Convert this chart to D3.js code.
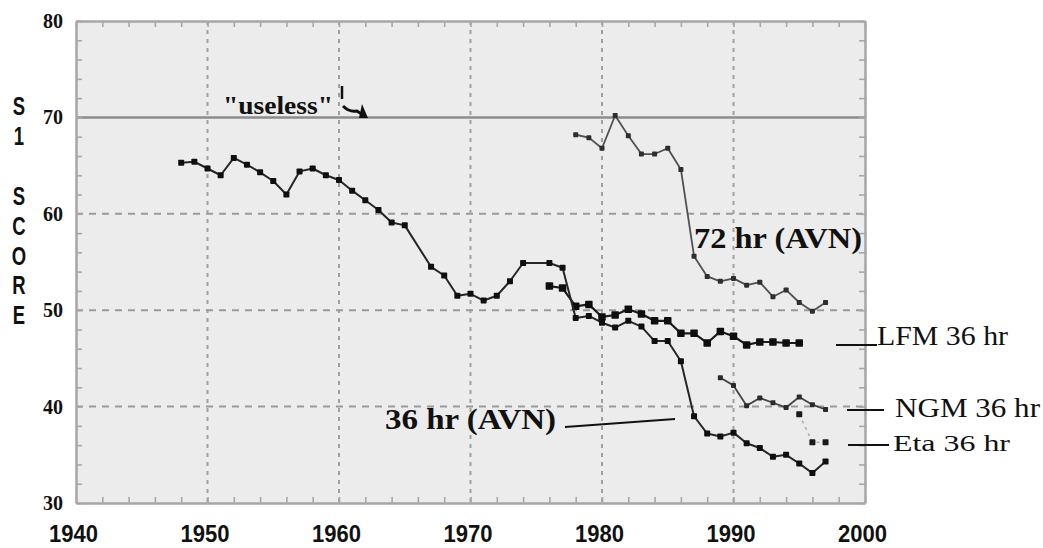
<!DOCTYPE html>
<html>
<head>
<meta charset="utf-8">
<script src="https://cdn.jsdelivr.net/npm/d3@7"></script>
<style>
  html, body { margin: 0; padding: 0; background: #ffffff; }
  svg { display: block; }
</style>
</head>
<body>
<svg id="chart" width="1043" height="548"></svg>
<script>
// S1 skill scores of NCEP forecasts (lower is better)

// 36 hr forecast, AVN / operational barotropic-to-global lineage
const avn36Years = [1948,1949,1950,1951,1952,1953,1954,1955,1956,1957,1958,1959,1960,1961,1962,1963,1964,1965,
                    1967,1968,1969,1970,1971,1972,1973,1974,1976,1977,1978,1979,1980,1981,1982,1983,1984,1985,
                    1986,1987,1988,1989,1990,1991,1992,1993,1994,1995,1996,1997];
const avn36Scores = [65.3,65.4,64.7,64.0,65.8,65.1,64.3,63.4,62.0,64.4,64.7,64.0,63.5,62.4,61.4,60.4,59.1,58.8,
                     54.5,53.6,51.5,51.7,51.0,51.5,53.0,54.9,54.9,54.4,49.2,49.4,48.7,48.2,48.9,48.3,46.8,46.8,
                     44.7,39.0,37.2,36.9,37.3,36.2,35.7,34.8,35.0,34.1,33.1,34.3];

// 72 hr forecast, AVN
const avn72Years = [1978,1979,1980,1981,1982,1983,1984,1985,1986,1987,1988,1989,1990,1991,1992,1993,1994,1995,1996,1997];
const avn72Scores = [68.2,67.9,66.8,70.2,68.1,66.2,66.2,66.8,64.6,55.6,53.5,53.0,53.3,52.6,52.9,51.4,52.1,50.8,49.9,50.8];

// 36 hr forecast, LFM
const lfmYears = [1976,1977,1978,1979,1980,1981,1982,1983,1984,1985,1986,1987,1988,1989,1990,1991,1992,1993,1994,1995];
const lfmScores = [52.5,52.3,50.4,50.6,49.3,49.5,50.1,49.6,48.9,48.9,47.6,47.6,46.6,47.8,47.3,46.4,46.7,46.7,46.6,46.6];

// 36 hr forecast, NGM
const ngmYears = [1989,1990,1991,1992,1993,1994,1995,1996,1997];
const ngmScores = [43.0,42.2,40.1,40.9,40.4,39.9,41.0,40.2,39.7];

// 36 hr forecast, Eta
const etaYears = [1995,1996,1997];
const etaScores = [39.2,36.3,36.3];

// axes
const yTickValues = [30, 40, 50, 60, 70, 80];
const xTickValues = [1940, 1950, 1960, 1970, 1980, 1990, 2000];
const yGridValues = [40, 50, 60];
const xGridValues = [1950, 1960, 1970, 1980, 1990];
const uselessLevel = 70;
const yTitleChars = ["S", "1", "", "S", "C", "O", "R", "E"];

const svg = d3.select("#chart");
const x = d3.scaleLinear().domain([1940, 2000]).range([76, 865]);
const y = d3.scaleLinear().domain([30, 80]).range([503, 21]);

const serif = "'Liberation Serif', 'Times New Roman', serif";
const sans = "'Liberation Sans', Arial, sans-serif";

// plot background
svg.append("rect")
  .attr("x", x(1940)).attr("y", y(80))
  .attr("width", x(2000) - x(1940)).attr("height", y(30) - y(80))
  .attr("fill", "#ececec");

// dashed grid
svg.append("g").selectAll("line").data(yGridValues).join("line")
  .attr("x1", x(1940)).attr("x2", x(2000))
  .attr("y1", d => y(d)).attr("y2", d => y(d))
  .attr("stroke", "#9a9a9a").attr("stroke-width", 2).attr("stroke-dasharray", "7,6");
svg.append("g").selectAll("line").data(xGridValues).join("line")
  .attr("x1", d => x(d)).attr("x2", d => x(d))
  .attr("y1", y(80)).attr("y2", y(30))
  .attr("stroke", "#a0a0a0").attr("stroke-width", 2).attr("stroke-dasharray", "4,5");

// "useless" threshold
svg.append("line")
  .attr("x1", x(1940)).attr("x2", x(2000))
  .attr("y1", y(uselessLevel)).attr("y2", y(uselessLevel))
  .attr("stroke", "#8c8c8c").attr("stroke-width", 2.5);

// frame with inward minor ticks
function frame(sel) {
  sel.selectAll(".domain").attr("stroke", "#a6a6a6").attr("stroke-width", 2.5);
  sel.selectAll(".tick line").attr("stroke", "#a8a8a8").attr("stroke-width", 1.6);
}
const minorY = d3.range(30, 81, 2);
const minorX = d3.range(1940, 2001, 2);
svg.append("g").attr("transform", `translate(${x(1940)},0)`)
  .call(d3.axisLeft(y).tickValues(minorY).tickSize(-6).tickSizeOuter(0).tickFormat(""))
  .call(frame);
svg.append("g").attr("transform", `translate(${x(2000)},0)`)
  .call(d3.axisRight(y).tickValues(minorY).tickSize(-6).tickSizeOuter(0).tickFormat(""))
  .call(frame);
svg.append("g").attr("transform", `translate(0,${y(80)})`)
  .call(d3.axisTop(x).tickValues(minorX).tickSize(-6).tickSizeOuter(0).tickFormat(""))
  .call(frame);
svg.append("g").attr("transform", `translate(0,${y(30)})`)
  .call(d3.axisBottom(x).tickValues(minorX).tickSize(-6).tickSizeOuter(0).tickFormat(""))
  .call(frame);

// tick labels
const yAxis = svg.append("g").attr("transform", `translate(${x(1940)},0)`)
  .call(d3.axisLeft(y).tickValues(yTickValues).tickSize(0).tickPadding(13).tickFormat(d3.format("d")));
yAxis.select(".domain").remove();
yAxis.selectAll("text").attr("font-family", serif).attr("font-weight", "bold")
  .attr("font-size", 20).attr("fill", "#111");

const xAxis = svg.append("g").attr("transform", `translate(-3,${y(30)})`)
  .call(d3.axisBottom(x).tickValues(xTickValues).tickSize(0).tickPadding(23).tickFormat(d3.format("d")));
xAxis.select(".domain").remove();
xAxis.selectAll("text").attr("font-family", sans).attr("font-weight", "bold")
  .attr("font-size", 23).attr("fill", "#111")
  .attr("textLength", 49).attr("lengthAdjust", "spacingAndGlyphs");

// vertical axis title, one character per line
svg.append("g").selectAll("text").data(yTitleChars).join("text")
  .attr("transform", (d, i) => `translate(19,${106 + i * 29.9}) scale(0.74,1)`)
  .attr("dy", "0.36em")
  .attr("text-anchor", "middle")
  .attr("font-family", sans).attr("font-weight", "bold").attr("font-size", 25)
  .attr("fill", "#111")
  .text(d => d);

// series
const series = [
  { years: avn72Years, scores: avn72Scores, line: "#505050", width: 1.8, mark: "#2e2e2e", size: 5 },
  { years: lfmYears,   scores: lfmScores,   line: "#1c1c1c", width: 2.2, mark: "#0e0e0e", size: 7.5 },
  { years: avn36Years, scores: avn36Scores, line: "#262626", width: 2,   mark: "#0f0f0f", size: 6 },
  { years: ngmYears,   scores: ngmScores,   line: "#444444", width: 1.8, mark: "#2a2a2a", size: 5 },
  { years: etaYears,   scores: etaScores,   line: "#b0b0b0", width: 1.6, mark: "#1a1a1a", size: 6, dash: "3,4" }
];
const lineGen = d3.line().x(d => x(d[0])).y(d => y(d[1]));
series.forEach(s => {
  const pts = d3.zip(s.years, s.scores);
  svg.append("path").datum(pts)
    .attr("d", lineGen)
    .attr("fill", "none").attr("stroke", s.line).attr("stroke-width", s.width)
    .attr("stroke-linejoin", "round")
    .attr("stroke-dasharray", s.dash || null);
  svg.append("g").selectAll("rect").data(pts).join("rect")
    .attr("x", d => x(d[0]) - s.size / 2).attr("y", d => y(d[1]) - s.size / 2)
    .attr("width", s.size).attr("height", s.size)
    .attr("rx", 0.8)
    .attr("fill", s.mark);
});

// annotations
const notes = svg.append("g");
function note(txt, px, py, size, weight, len) {
  notes.append("text").attr("x", px).attr("y", py)
    .attr("font-family", serif).attr("font-weight", weight).attr("font-size", size)
    .attr("fill", "#111")
    .attr("textLength", len).attr("lengthAdjust", "spacingAndGlyphs")
    .text(txt);
}
note('"useless"', 223, 114, 26, "bold", 110);
note("72 hr (AVN)", 694, 248, 30, "bold", 168);
note("36 hr (AVN)", 385, 429, 30, "bold", 171);
note("LFM 36 hr", 877, 345, 28, "normal", 131);
note("NGM 36 hr", 895, 417, 28, "normal", 145);
note("Eta 36 hr", 893, 451, 24, "normal", 117);

// pointer lines
const pointers = [
  [565, 427, 675, 419],
  [836, 345, 877, 345],
  [847, 410, 884, 410],
  [848, 445, 889, 445]
];
notes.selectAll("line").data(pointers).join("line")
  .attr("x1", d => d[0]).attr("y1", d => d[1]).attr("x2", d => d[2]).attr("y2", d => d[3])
  .attr("stroke", "#111").attr("stroke-width", 2.2);

// hand-drawn arrow towards the threshold line
notes.append("line").attr("x1", 342).attr("y1", 86).attr("x2", 342).attr("y2", 99)
  .attr("stroke", "#111").attr("stroke-width", 2.5);
notes.append("path")
  .attr("d", "M343,106 C348,111 352,112 357,111 L366,117")
  .attr("fill", "none").attr("stroke", "#111").attr("stroke-width", 3);
notes.append("path")
  .attr("d", "M368,118 L359,118 L362,104 Z")
  .attr("fill", "#111");
</script>
</body>
</html>
